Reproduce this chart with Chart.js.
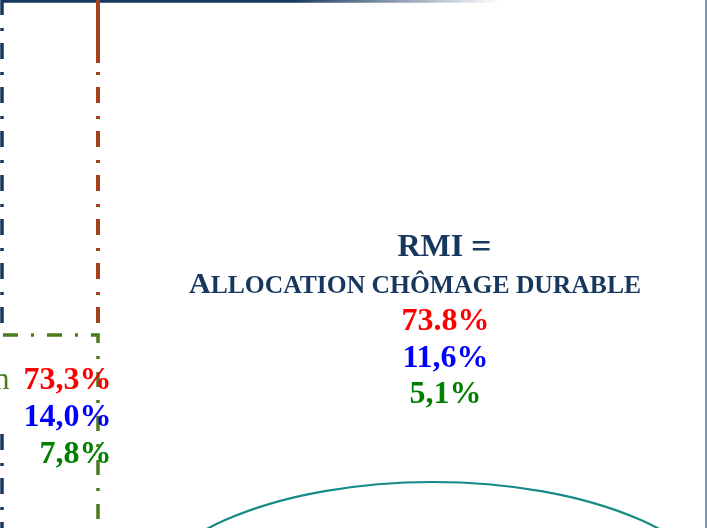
<!DOCTYPE html>
<html>
<head>
<meta charset="utf-8">
<script src="https://cdn.jsdelivr.net/npm/chart.js@4/dist/chart.umd.min.js"></script>
<style>
  html, body { margin: 0; padding: 0; background: #ffffff; overflow: hidden; }
  #wrap { width: 707px; height: 528px; }
</style>
</head>
<body>
<div id="wrap"><canvas id="c" width="707" height="528"></canvas></div>
<script>
// ---- Diagram data (in diagram units) ----
const topLineX = [2, 498];
const topLineY = [1.3, 1.3];
const blueUpperX = [2, 2];
const blueUpperY = [-1, 326];
const blueLowerX = [2, 2];
const blueLowerY = [434, 532];
const orangeSolidX = [98, 98];
const orangeSolidY = [-1, 63];
const orangeDashX = [98, 98];
const orangeDashY = [-1, 326];
const greenX = [3, 98, 98];
const greenY = [335, 335, 532];
const borderX = [706, 706];
const borderY = [-2, 532];
const ellipseCenter = [433, 612];
const ellipseRadii = [294, 130];

const leftLabels = ['73,3%', '14,0%', '7,8%'];
const leftCut = 'n';
const centerTitle = ['RMI', '='];
const centerSubtitle = 'Allocation chômage durable';
const centerValues = ['73.8%', '11,6%', '5,1%'];
const valueColors = ['#FF0000', '#0000FF', '#008000'];

const NAVY = '#17375E';
const ORANGE = '#A3421A';
const OLIVE = '#4E7A1E';
const TEAL = '#168A86';
const BORDER = '#5B7FA6';

function pts(xs, ys) { return xs.map((x, i) => ({ x: x, y: ys[i] })); }

const dashDot = [16, 13, 3, 12];

function lineDs(xs, ys, color, width, dash) {
  return {
    data: pts(xs, ys),
    showLine: true,
    borderColor: color,
    borderWidth: width,
    borderDash: dash || [],
    borderCapStyle: 'butt',
    borderJoinStyle: 'miter',
    pointRadius: 0,
    pointHoverRadius: 0,
    tension: 0,
    fill: false,
    clip: false
  };
}

const topGradient = function(context) {
  const chart = context.chart;
  if (!chart.chartArea) return NAVY;
  const xs = chart.scales.x;
  const g = chart.ctx.createLinearGradient(xs.getPixelForValue(290), 0, xs.getPixelForValue(500), 0);
  g.addColorStop(0, 'rgba(23,55,94,1)');
  g.addColorStop(0.45, 'rgba(23,55,94,0.55)');
  g.addColorStop(1, 'rgba(23,55,94,0)');
  return g;
};

const textPlugin = {
  id: 'diagramText',
  afterDatasetsDraw(chart) {
    const ctx = chart.ctx;
    const xs = chart.scales.x, ys = chart.scales.y;
    const X = v => xs.getPixelForValue(v), Y = v => ys.getPixelForValue(v);
    ctx.save();

    // ellipse arc
    const cx = X(ellipseCenter[0]), cy = Y(ellipseCenter[1]);
    const rx = Math.abs(X(ellipseCenter[0] + ellipseRadii[0]) - cx);
    const ry = Math.abs(Y(ellipseCenter[1] + ellipseRadii[1]) - cy);
    ctx.beginPath();
    ctx.ellipse(cx, cy, rx, ry, 0, 0, Math.PI * 2);
    ctx.strokeStyle = TEAL;
    ctx.lineWidth = 2.2;
    ctx.stroke();

    ctx.textBaseline = 'alphabetic';
    const serifB = 'bold 32px "Liberation Serif", "Times New Roman", serif';

    // cut-off word end at left
    ctx.font = '31px "Liberation Serif", "Times New Roman", serif';
    ctx.fillStyle = OLIVE;
    ctx.textAlign = 'right';
    ctx.fillText(leftCut, X(9.5), Y(389));

    // left values
    ctx.font = serifB;
    const leftBase = [389, 426, 463];
    leftLabels.forEach((t, i) => {
      ctx.fillStyle = valueColors[i];
      ctx.fillText(t, X(111.5), Y(leftBase[i]));
    });

    // center title
    ctx.textAlign = 'left';
    ctx.fillStyle = NAVY;
    ctx.font = serifB;
    ctx.fillText(centerTitle[0], X(397.5), Y(256));
    ctx.font = 'bold 36px "Liberation Serif", "Times New Roman", serif';
    ctx.fillText(centerTitle[1], X(471), Y(258));

    // small caps subtitle
    const bigFont = 'bold 30px "Liberation Serif", "Times New Roman", serif';
    const smallFont = 'bold 25.6px "Liberation Serif", "Times New Roman", serif';
    const first = centerSubtitle.charAt(0).toUpperCase();
    const rest = centerSubtitle.slice(1).toUpperCase();
    ctx.font = bigFont;
    const w1 = ctx.measureText(first).width;
    ctx.font = smallFont;
    const w2 = ctx.measureText(rest).width;
    let sx = X(415) - (w1 + w2) / 2;
    ctx.font = bigFont;
    ctx.fillText(first, sx, Y(293));
    ctx.font = smallFont;
    ctx.fillText(rest, sx + w1, Y(293));

    // center values
    ctx.textAlign = 'center';
    ctx.font = serifB;
    const cBase = [330, 367, 403];
    centerValues.forEach((t, i) => {
      ctx.fillStyle = valueColors[i];
      ctx.fillText(t, X(445.5), Y(cBase[i]));
    });

    ctx.restore();
  }
};

new Chart(document.getElementById('c'), {
  type: 'scatter',
  data: {
    datasets: [
      lineDs(orangeSolidX, orangeSolidY, ORANGE, 4),
      lineDs(orangeDashX, orangeDashY, ORANGE, 4, dashDot),
      lineDs(topLineX, topLineY, topGradient, 2.8),
      lineDs(blueUpperX, blueUpperY, NAVY, 3.5, dashDot),
      lineDs(blueLowerX, blueLowerY, NAVY, 3.5, dashDot),
      lineDs(greenX, greenY, OLIVE, 3.5, [15, 13, 3, 13]),
      lineDs(borderX, borderY, BORDER, 1.6)
    ]
  },
  options: {
    responsive: false,
    animation: false,
    devicePixelRatio: 1,
    layout: { padding: 0 },
    events: [],
    plugins: { legend: { display: false }, tooltip: { enabled: false }, title: { display: false } },
    scales: {
      x: { type: 'linear', min: 0, max: 707, display: false },
      y: { type: 'linear', min: 0, max: 528, reverse: true, display: false }
    }
  },
  plugins: [textPlugin]
});
</script>
</body>
</html>
